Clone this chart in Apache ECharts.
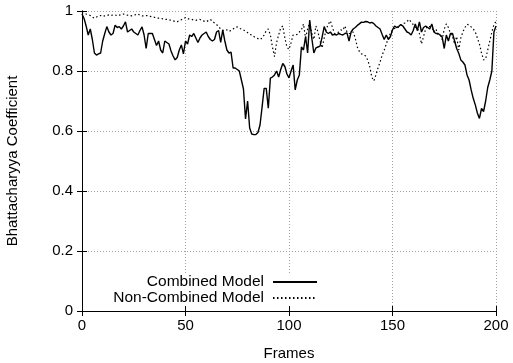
<!DOCTYPE html>
<html>
<head>
<meta charset="utf-8">
<script src="https://cdn.jsdelivr.net/npm/echarts@6/dist/echarts.min.js"></script>
<style>html,body{margin:0;padding:0;background:#fff}#c{width:513px;height:363px}</style>
</head>
<body>
<div id="c"></div>
<script>
var xTicks = [0, 50, 100, 150, 200];
var yTicks = [0, 0.2, 0.4, 0.6, 0.8, 1];
var seriesNames = ['Combined Model', 'Non-Combined Model'];
var combined = [
0.99,0.975,0.95,0.92,0.94,0.905,0.86,0.853,0.857,0.86,
0.9,0.925,0.948,0.93,0.92,0.925,0.953,0.945,0.948,0.94,
0.95,0.964,0.93,0.935,0.94,0.93,0.925,0.92,0.935,0.947,
0.92,0.875,0.925,0.925,0.925,0.905,0.885,0.9,0.87,0.86,
0.9,0.895,0.89,0.867,0.85,0.837,0.845,0.87,0.887,0.857,
0.9,0.89,0.92,0.915,0.925,0.91,0.895,0.91,0.92,0.925,
0.93,0.915,0.905,0.9,0.905,0.93,0.935,0.895,0.937,0.9,
0.87,0.86,0.863,0.81,0.81,0.805,0.8,0.77,0.74,0.64,
0.70,0.61,0.59,0.588,0.588,0.595,0.62,0.68,0.742,0.742,
0.676,0.776,0.78,0.787,0.8,0.78,0.805,0.825,0.815,0.79,
0.777,0.8,0.82,0.737,0.77,0.787,0.88,0.87,0.915,0.86,
0.97,0.91,0.86,0.877,0.88,0.883,0.913,0.948,0.93,0.925,
0.93,0.92,0.922,0.92,0.925,0.922,0.92,0.925,0.927,0.9,
0.93,0.94,0.945,0.952,0.957,0.963,0.962,0.965,0.964,0.96,
0.962,0.958,0.95,0.945,0.94,0.922,0.905,0.92,0.905,0.915,
0.937,0.95,0.945,0.948,0.955,0.95,0.94,0.93,0.927,0.92,
0.935,0.957,0.935,0.964,0.93,0.945,0.95,0.945,0.94,0.957,
0.93,0.925,0.925,0.92,0.913,0.875,0.92,0.9,0.925,0.925,
0.9,0.875,0.859,0.837,0.83,0.82,0.787,0.77,0.737,0.709,
0.687,0.66,0.642,0.675,0.665,0.70,0.745,0.77,0.8,0.93,
0.95
];
var nonCombined = [
0.995,0.99,0.99,0.988,0.985,0.98,0.976,0.98,0.983,0.985,
0.982,0.984,0.985,0.987,0.985,0.987,0.987,0.984,0.986,0.988,
0.99,0.988,0.986,0.985,0.984,0.986,0.988,0.99,0.986,0.984,
0.984,0.985,0.984,0.982,0.98,0.979,0.977,0.976,0.976,0.974,
0.972,0.972,0.971,0.969,0.967,0.965,0.964,0.968,0.971,0.974,
0.978,0.975,0.972,0.972,0.97,0.969,0.971,0.972,0.968,0.966,
0.964,0.968,0.972,0.966,0.96,0.955,0.948,0.94,0.935,0.936,
0.937,0.932,0.935,0.94,0.945,0.947,0.942,0.94,0.937,0.932,
0.928,0.922,0.92,0.915,0.911,0.908,0.905,0.91,0.92,0.935,
0.94,0.92,0.88,0.848,0.895,0.92,0.944,0.95,0.91,0.88,
0.872,0.895,0.92,0.92,0.922,0.93,0.937,0.957,0.91,0.94,
0.963,0.925,0.905,0.95,0.93,0.9,0.877,0.91,0.94,0.956,
0.967,0.945,0.925,0.925,0.93,0.937,0.935,0.95,0.93,0.925,
0.925,0.93,0.91,0.88,0.865,0.857,0.855,0.85,0.837,0.815,
0.78,0.767,0.787,0.81,0.83,0.853,0.87,0.89,0.91,0.925,
0.937,0.942,0.947,0.945,0.95,0.958,0.96,0.965,0.972,0.963,
0.955,0.947,0.943,0.925,0.89,0.915,0.94,0.95,0.948,0.945,
0.93,0.94,0.92,0.92,0.905,0.94,0.957,0.945,0.925,0.915,
0.89,0.915,0.87,0.91,0.93,0.945,0.956,0.953,0.947,0.94,
0.93,0.91,0.89,0.86,0.837,0.84,0.87,0.9,0.93,0.955,
0.965
];

function pairs(arr) { return arr.map(function (v, i) { return [i, v]; }); }

var FONT = 'Liberation Sans';
var chart = echarts.init(document.getElementById('c'), null, {renderer: 'canvas'});
var axisLine = {show: true, lineStyle: {color: '#000', width: 1}};
var grid = {show: true, lineStyle: {color: '#a0a0a0', width: 1, type: [1, 2]}};
chart.setOption({
  animation: false,
  backgroundColor: '#fff',
  grid: {left: 82, right: 17, top: 11, bottom: 52, containLabel: false, outerBoundsMode: 'none'},
  legend: {
    orient: 'vertical',
    align: 'right',
    right: 195,
    top: 274,
    padding: 0,
    itemGap: 0,
    itemWidth: 44,
    itemHeight: 15,
    backgroundColor: '#fff',
    itemStyle: {opacity: 0},
    textStyle: {fontFamily: FONT, fontSize: 15.5, color: '#000', lineHeight: 15, padding: [0, 4, 0, 0]},
    data: seriesNames
  },
  xAxis: [{
    type: 'value', min: xTicks[0], max: xTicks[xTicks.length - 1], interval: 50,
    name: 'Frames', nameLocation: 'middle', nameGap: 35,
    nameTextStyle: {fontFamily: FONT, fontSize: 15, color: '#000'},
    axisLine: axisLine,
    axisTick: {show: true, inside: true, length: 5, lineStyle: {color: '#000'}},
    axisLabel: {fontFamily: FONT, fontSize: 15, color: '#000', margin: 7},
    splitLine: grid
  }, {
    type: 'value', position: 'top', min: 0, max: 200, interval: 50,
    axisLine: axisLine,
    axisTick: {show: true, inside: true, length: 5, lineStyle: {color: '#000'}},
    axisLabel: {show: false}, splitLine: {show: false}
  }],
  yAxis: [{
    type: 'value', min: yTicks[0], max: yTicks[yTicks.length - 1], interval: 0.2,
    name: 'Bhattacharyya Coefficient', nameLocation: 'middle', nameGap: 62,
    nameTextStyle: {fontFamily: FONT, fontSize: 15, color: '#000'},
    axisLine: axisLine,
    axisTick: {show: true, inside: true, length: 5, lineStyle: {color: '#000'}},
    axisLabel: {fontFamily: FONT, fontSize: 15, color: '#000', margin: 9},
    splitLine: grid
  }, {
    type: 'value', position: 'right', min: 0, max: 1, interval: 0.2,
    axisLine: axisLine,
    axisTick: {show: true, inside: true, length: 5, lineStyle: {color: '#000'}},
    axisLabel: {show: false}, splitLine: {show: false}
  }],
  series: [{
    name: seriesNames[0], type: 'line', data: pairs(combined),
    symbol: 'none', lineStyle: {color: '#000', width: 1.4}, itemStyle: {color: '#000'}, z: 3
  }, {
    name: seriesNames[1], type: 'line', data: pairs(nonCombined),
    symbol: 'none', lineStyle: {color: '#000', width: 1.2, type: [1.5, 2.5]}, itemStyle: {color: '#000'}, z: 2
  }]
});
</script>
</body>
</html>
